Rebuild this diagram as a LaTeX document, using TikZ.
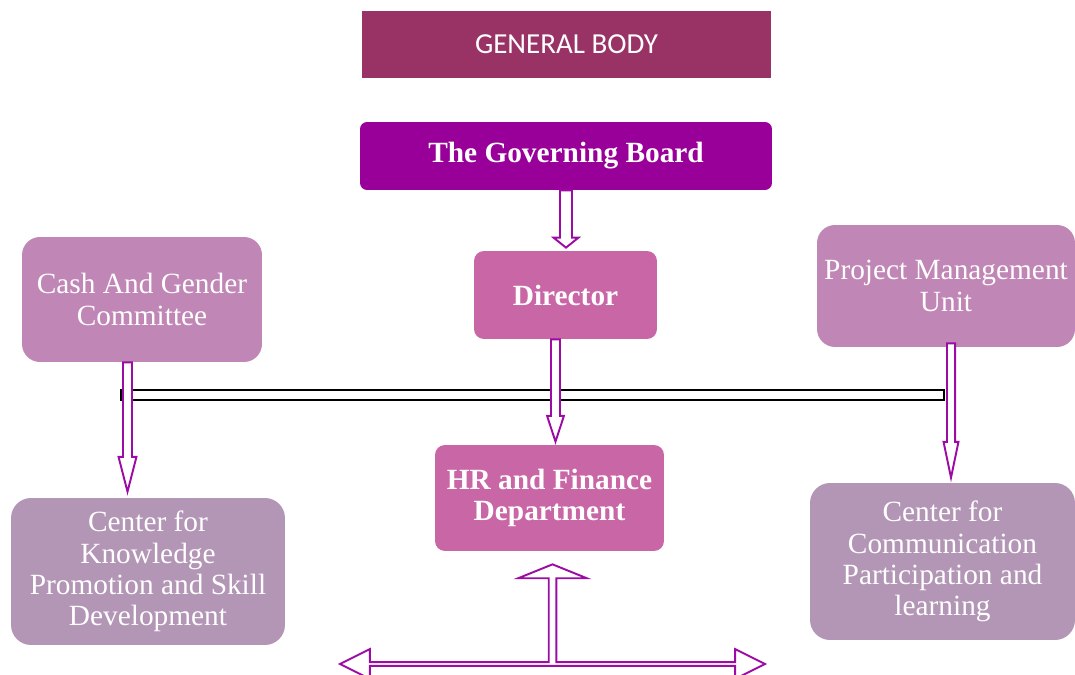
\documentclass[tikz,border=0pt]{standalone}
\usepackage{fontspec}
\setmainfont{Liberation Serif}
\newfontfamily\calibrifont{Carlito}
\usetikzlibrary{calc}

\definecolor{bodyred}{HTML}{993366}
\definecolor{boardpurple}{HTML}{990099}
\definecolor{dirpink}{HTML}{C966A5}
\definecolor{unitpink}{HTML}{C086B6}
\definecolor{centermauve}{HTML}{B395B5}
\definecolor{arrowpurple}{HTML}{9C0CA4}

% start, tip, shaft half width, head half width, head length
\newcommand{\downblock}[5]{%
\draw[blockarrow] let \p1=(#1), \p2=(#2) in
    (\x2-#3,\y1) -- (\x2-#3,\y2+#5) -- (\x2-#4,\y2+#5) -- (\x2,\y2)
    -- (\x2+#4,\y2+#5) -- (\x2+#3,\y2+#5) -- (\x2+#3,\y1) -- cycle;}

\begin{document}
\begin{tikzpicture}[x=0.02cm,y=-0.02cm,
unitbox/.style={rectangle,text=white,align=center,inner sep=2pt,
    font=\fontsize{16.7}{17.8}\selectfont},
headbox/.style={unitbox,font=\fontsize{16.7}{17.8}\selectfont\bfseries},
blockarrow/.style={draw=arrowpurple,fill=white,line width=1.1pt,line join=miter},
barline/.style={draw=black,fill=white,line width=0.9pt}]
\useasboundingbox (0,0) rectangle (1075,675);

\node (genbody) [unitbox,fill=bodyred,minimum width=8.18cm,minimum height=1.34cm,
    font=\calibrifont\fontsize{16.5}{18}\selectfont] at (566.5,44.5) {GENERAL BODY};
\node (board) [headbox,fill=boardpurple,rounded corners=0.14cm,
    minimum width=8.24cm,minimum height=1.36cm] at (566,156) {The Governing Board};
\node (director) [headbox,fill=dirpink,rounded corners=0.2cm,
    minimum width=3.66cm,minimum height=1.76cm] at (565.5,295) {Director};
\node (cash) [unitbox,fill=unitpink,rounded corners=0.36cm,
    minimum width=4.8cm,minimum height=2.5cm] at (142,299.5) {Cash And Gender\\Committee};
\node (pmu) [unitbox,fill=unitpink,rounded corners=0.36cm,
    minimum width=5.16cm,minimum height=2.44cm] at (946,286) {Project Management\\Unit};
\node (hr) [headbox,fill=dirpink,rounded corners=0.2cm,
    minimum width=4.58cm,minimum height=2.12cm] at (549.5,498) {HR and Finance\\Department};
\node (knowledge) [unitbox,fill=centermauve,rounded corners=0.4cm,
    minimum width=5.48cm,minimum height=2.94cm] at (148,571.5)
    {Center for\\Knowledge\\Promotion and Skill\\Development};
\node (comm) [unitbox,fill=centermauve,rounded corners=0.4cm,
    minimum width=5.3cm,minimum height=3.14cm] at (942.5,561.5)
    {Center for\\Communication\\Participation and\\learning};

\coordinate (dirtip) at ($(director.north)+(0.5,-3)$);
\coordinate (hrtip) at ($(hr.north)+(6,-3)$);
\coordinate (cashtip) at ($(knowledge.north)+(-20.5,-6)$);
\coordinate (pmutip) at ($(comm.north)+(8.5,-5)$);
\coordinate (uptip) at ($(hr.south)+(3,13)$);
\coordinate (lefttip) at (340,664);
\coordinate (righttip) at (765,664);

% linking bar
\draw[barline] (121,390) rectangle (944,400);

\downblock{board.south}{dirtip}{3.4pt}{7.1pt}{5.7pt}
\downblock{cash.south -| cashtip}{cashtip}{2.55pt}{5.1pt}{19.8pt}
\downblock{director.south -| hrtip}{hrtip}{2.55pt}{4.8pt}{14.7pt}
\downblock{$(pmu.south -| pmutip)+(0,-4)$}{pmutip}{2.3pt}{4.25pt}{20.4pt}

% arrow into HR from below
\draw[blockarrow] let \p1=(uptip), \p2=(lefttip), \p3=(righttip) in
    (\x2,\y2) -- (\x2+17pt,\y2+8.5pt) -- (\x2+17pt,\y2+1.1pt)
    -- (\x1-2.15pt,\y2+1.1pt) -- (\x1-2.15pt,\y1-7.9pt) -- (\x1-19.5pt,\y1-7.9pt)
    -- (\x1,\y1) -- (\x1+19.5pt,\y1-7.9pt) -- (\x1+2.15pt,\y1-7.9pt)
    -- (\x1+2.15pt,\y2+1.1pt) -- (\x3-17pt,\y2+1.1pt) -- (\x3-17pt,\y2+8.5pt)
    -- (\x3,\y3) -- (\x3-17pt,\y2-8.5pt) -- (\x3-17pt,\y2-1.1pt)
    -- (\x2+17pt,\y2-1.1pt) -- (\x2+17pt,\y2-8.5pt) -- cycle;
\end{tikzpicture}
\end{document}
